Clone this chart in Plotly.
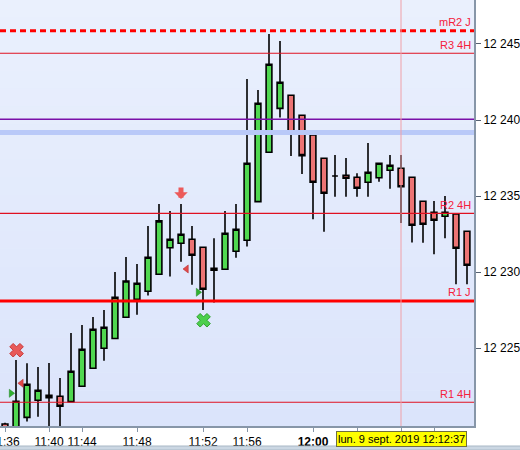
import plotly.graph_objects as go

# ---- data ----
idx = list(range(43))
opens  = [12220.02, 12219.60, 12220.46, 12221.58, 12221.91, 12221.85, 12221.49, 12222.50, 12223.69, 12225.00,
          12225.64, 12227.04, 12228.22, 12228.75, 12229.86, 12231.61, 12231.90, 12232.16, 12231.64, 12230.26,
          12230.19, 12231.38, 12232.10, 12234.64, 12237.88, 12240.77, 12241.63, 12240.31, 12239.02, 12237.49,
          12236.32, 12236.37, 12236.24, 12235.91, 12236.21, 12236.70, 12236.83, 12236.24, 12234.66, 12233.94,
          12233.68, 12233.83, 12232.69]
highs  = [12220.10, 12224.23, 12224.01, 12223.77, 12224.03, 12223.05, 12226.01, 12226.53, 12227.06, 12227.52,
          12230.01, 12231.00, 12230.54, 12233.04, 12234.48, 12234.02, 12234.48, 12233.04, 12231.64, 12232.23,
          12234.02, 12234.48, 12242.70, 12241.98, 12245.66, 12245.20, 12241.63, 12240.31, 12239.02, 12237.49,
          12237.70, 12237.51, 12236.50, 12238.49, 12237.16, 12237.70, 12237.70, 12236.24, 12234.66, 12234.68,
          12235.01, 12233.83, 12232.69]
lows   = [12219.20, 12219.30, 12220.18, 12220.50, 12219.50, 12219.60, 12221.49, 12222.50, 12223.69, 12224.18,
          12225.64, 12227.04, 12227.21, 12228.46, 12229.86, 12229.71, 12230.69, 12229.18, 12227.52, 12228.00,
          12230.19, 12230.95, 12231.68, 12234.64, 12237.88, 12240.16, 12237.64, 12236.46, 12233.48, 12232.66,
          12234.96, 12234.96, 12234.96, 12234.96, 12235.95, 12235.49, 12233.24, 12231.95, 12231.94, 12231.18,
          12232.23, 12229.21, 12229.21]
closes = [12219.50, 12221.52, 12222.63, 12222.24, 12221.75, 12221.19, 12223.49, 12224.93, 12226.25, 12226.38,
          12228.35, 12229.42, 12229.27, 12230.98, 12233.37, 12232.16, 12232.49, 12231.11, 12228.88, 12230.13,
          12232.56, 12232.82, 12237.16, 12241.10, 12243.67, 12242.48, 12239.20, 12237.66, 12235.91, 12235.19,
          12236.32, 12236.17, 12235.52, 12236.57, 12237.16, 12237.03, 12235.62, 12233.08, 12233.15, 12233.41,
          12233.94, 12231.57, 12230.46]

tick_idx = [0, 4, 7, 12, 18, 22, 28, 32, 36, 39]
tick_lbl = ["11:36", "11:40", "11:44", "11:48", "11:52", "11:56", "<b>12:00</b>", "", "", ""]

y_ticks = [12225, 12230, 12235, 12240, 12245]
y_tick_lbl = ["12 225", "12 230", "12 235", "12 240", "12 245"]

level_names  = ["mR2 J", "R3 4H", "R2 4H", "R1 J", "R1 4H"]
level_values = [12245.87, 12244.39, 12233.87, 12228.11, 12221.45]
purple_level = 12240.05
blue_zone = [12239.02, 12239.35]

cross_red   = ([1.05], [12224.87])
cross_green = ([18.05], [12226.84])
arrow_down  = ([16.0], [12234.81])
tri_right   = ([0.55, 17.55], [12222.04, 12228.68])
tri_left    = ([1.49, 16.5], [12222.70, 12230.21])

cursor_idx = 36
cursor_text = "lun. 9 sept. 2019 12:12:37"

# ---- figure ----
fig = go.Figure()

norm = [i for i in idx if opens[i] != closes[i]]
doji = [i for i in idx if opens[i] == closes[i]]

fig.add_trace(go.Candlestick(
    x=[idx[i] for i in norm], open=[opens[i] for i in norm], high=[highs[i] for i in norm],
    low=[lows[i] for i in norm], close=[closes[i] for i in norm],
    increasing=dict(line=dict(color="black", width=1.6), fillcolor="#50d850"),
    decreasing=dict(line=dict(color="black", width=1.6), fillcolor="#ec7474"),
    whiskerwidth=0, hoverinfo="skip"))
fig.add_trace(go.Candlestick(
    x=[idx[i] for i in doji], open=[opens[i] for i in doji], high=[highs[i] for i in doji],
    low=[lows[i] for i in doji], close=[closes[i] for i in doji],
    increasing=dict(line=dict(color="black", width=1.6), fillcolor="black"),
    decreasing=dict(line=dict(color="black", width=1.6), fillcolor="black"),
    whiskerwidth=0, hoverinfo="skip"))

fig.add_trace(go.Scatter(x=cross_red[0], y=cross_red[1], mode="markers",
    marker=dict(symbol="x", size=12, color="#e85a5a", line=dict(color="#c83a3a", width=1))))
fig.add_trace(go.Scatter(x=cross_green[0], y=cross_green[1], mode="markers",
    marker=dict(symbol="x", size=12, color="#4ccf4c", line=dict(color="#30a030", width=1))))
fig.add_trace(go.Scatter(x=tri_right[0], y=tri_right[1], mode="markers",
    marker=dict(symbol="triangle-right", size=7, color="#30b030", line=dict(color="#208020", width=0.5))))
fig.add_trace(go.Scatter(x=tri_left[0], y=tri_left[1], mode="markers",
    marker=dict(symbol="triangle-left", size=7, color="#e04848", line=dict(color="#b02020", width=0.5))))

shapes = []
# background gradient
top_c = (234, 240, 253)
bot_c = (219, 228, 251)
n = 24
for k in range(n):
    t = (k + 0.5) / n
    c = tuple(int(round(top_c[j] + (bot_c[j] - top_c[j]) * t)) for j in range(3))
    shapes.append(dict(type="rect", xref="paper", yref="paper", x0=0, x1=1,
                       y0=1 - (k + 1) / n, y1=1 - k / n, layer="below",
                       fillcolor="rgb(%d,%d,%d)" % c, line=dict(width=0)))

# blue zone
shapes.append(dict(type="rect", xref="paper", yref="y", x0=0, x1=1, y0=blue_zone[0], y1=blue_zone[1],
                   fillcolor="#b9c9f8", line=dict(width=0), layer="above"))
# purple line
shapes.append(dict(type="line", xref="paper", yref="y", x0=0, x1=1, y0=purple_level, y1=purple_level,
                   line=dict(color="#7a10a8", width=1.5), layer="above"))
level_styles = [dict(color="#ff0000", width=3, dash="6px,4px"),
                dict(color="#e01020", width=1.2),
                dict(color="#e01020", width=1.2),
                dict(color="#ff0000", width=3),
                dict(color="#e01020", width=1.2)]
for v, st in zip(level_values, level_styles):
    shapes.append(dict(type="line", xref="paper", yref="y", x0=0, x1=1, y0=v, y1=v,
                       line=st, layer="above"))
# cursor
shapes.append(dict(type="line", xref="x", yref="paper", x0=cursor_idx, x1=cursor_idx, y0=0, y1=1,
                   line=dict(color="#f0a0a8", width=1), layer="above"))
# bottom band
shapes.append(dict(type="rect", xref="paper", yref="paper", x0=-0.01, x1=1.2,
                   y0=-24 / 426, y1=-20 / 426, fillcolor="#cbd7e3",
                   line=dict(color="#a9b8c6", width=1)))

annotations = []
for name, v, st in zip(level_names, level_values, level_styles):
    annotations.append(dict(xref="paper", yref="y", x=1, y=v, xanchor="right", yanchor="bottom",
                            text=name, showarrow=False, xshift=-1,
                            yshift=1 if st["width"] > 2 else 0,
                            font=dict(color="#f5203c", size=11)))
# red down arrow signal
annotations.append(dict(xref="x", yref="y", x=arrow_down[0][0], y=arrow_down[1][0], text="",
                        showarrow=True, ax=0, ay=-13, arrowhead=1, arrowsize=0.45,
                        arrowwidth=5, arrowcolor="#ec5a5a", standoff=0))
annotations.append(dict(xref="x", yref="paper", x=cursor_idx, y=-13 / 426, xanchor="center",
                        yanchor="middle", text=cursor_text, showarrow=False,
                        bgcolor="#ffff00", bordercolor="#6e6e40", borderwidth=1, borderpad=1,
                        font=dict(size=11, color="black")))

fig.update_layout(
    width=520, height=450,
    margin=dict(l=0, r=46, t=0, b=24, autoexpand=False),
    paper_bgcolor="white", plot_bgcolor="#e3eafc",
    showlegend=False, boxgap=0.25,
    font=dict(family="Liberation Sans, Arial, sans-serif", size=12, color="black"),
    shapes=shapes, annotations=annotations,
    xaxis=dict(range=[-0.4545, 42.636], rangeslider=dict(visible=False),
               tickmode="array", tickvals=tick_idx, ticktext=tick_lbl,
               ticks="outside", ticklen=4, tickcolor="#8796a8", tickwidth=1,
               ticklabeloverflow="allow", automargin=False,
               showline=True, linecolor="#8796a8", linewidth=2,
               showgrid=False, zeroline=False, tickfont=dict(size=12)),
    yaxis=dict(range=[12219.89, 12247.89], side="right", automargin=False,
               tickmode="array", tickvals=y_ticks, ticktext=y_tick_lbl,
               ticks="outside", ticklen=5, tickcolor="#556070", tickwidth=1,
               showline=True, linecolor="#8796a8", linewidth=2,
               showgrid=False, zeroline=False, tickfont=dict(size=12)),
)

fig.write_html("out.html", config={"displayModeBar": False},
               post_script="document.body.style.margin='0';document.body.style.overflow='hidden';")
